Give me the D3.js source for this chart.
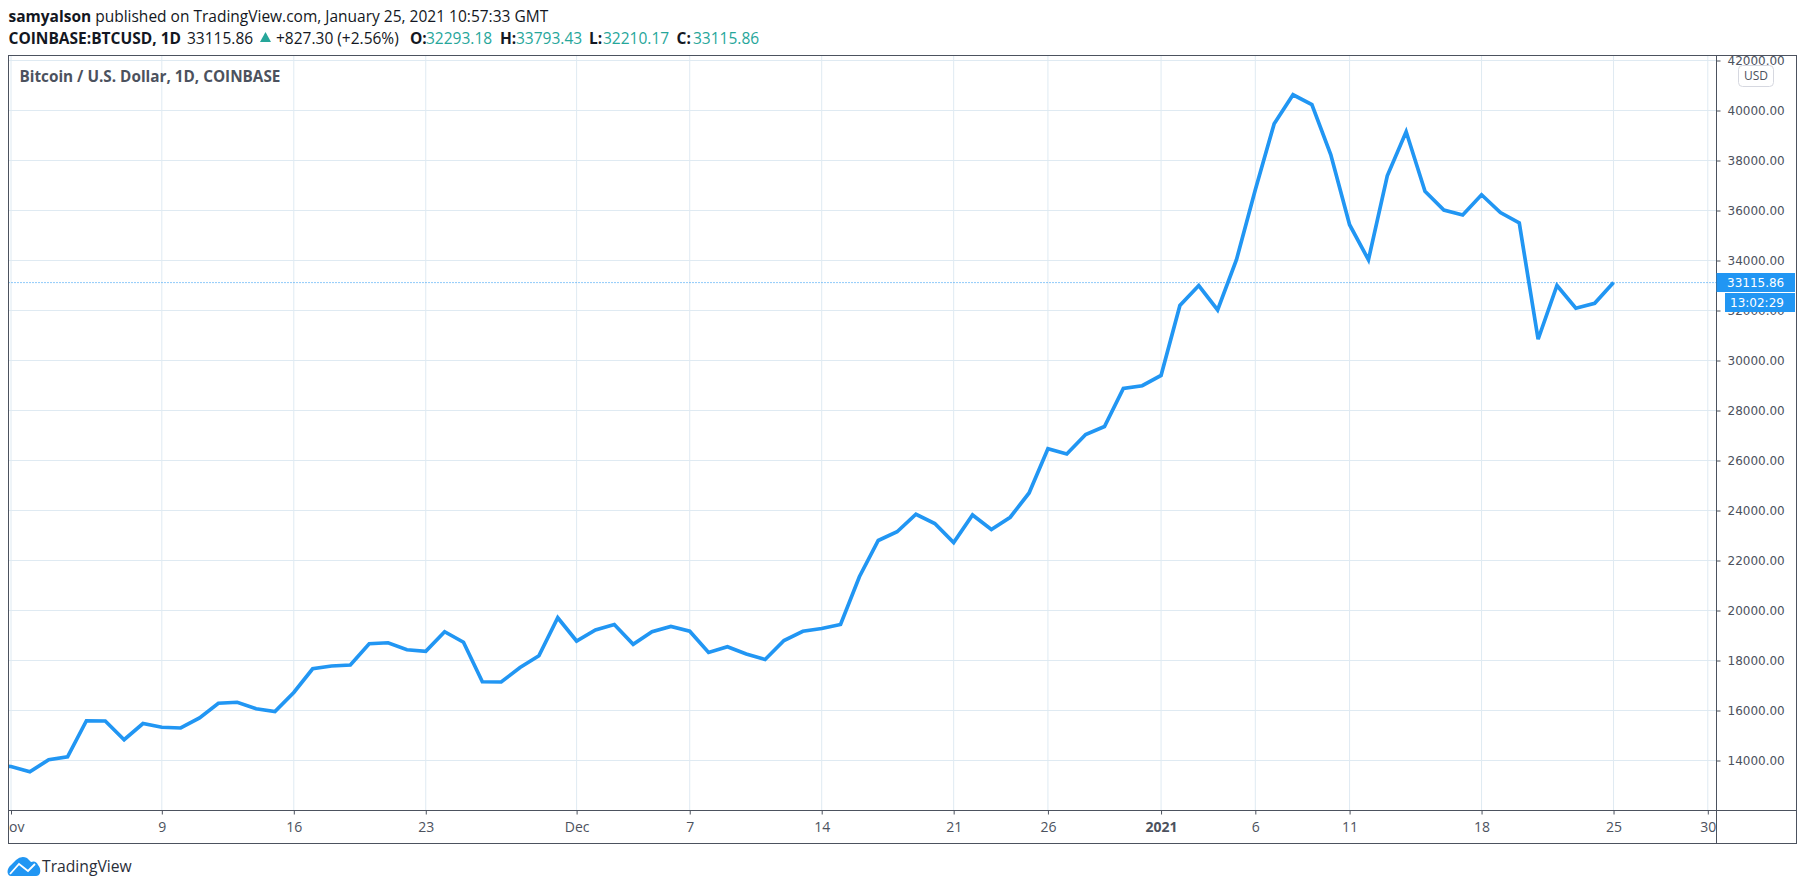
<!DOCTYPE html>
<html>
<head>
<meta charset="utf-8">
<script src="https://cdnjs.cloudflare.com/ajax/libs/d3/7.8.5/d3.min.js"></script>
<style>
  html, body { margin: 0; padding: 0; background: #fff; }
  svg { display: block; }
  text { font-family: "Open Sans", sans-serif; }
</style>
</head>
<body>
<svg id="chart" width="1805" height="890"></svg>
<script>
// daily closes. first one is Oct 31, off the left edge
const firstDay = "2020-10-31";
const closes = [
  13800, 13760, 13550, 14030, 14150, 15590, 15580, 14830, 15480, 15330, 15300,
  15700, 16290, 16330, 16070, 15960, 16720, 17670, 17780, 17820, 18670, 18710,
  18430, 18370, 19150, 18730, 17150, 17140, 17720, 18190, 19710,
  18780, 19220, 19440, 18650, 19150, 19360, 19170, 18320, 18550, 18260, 18040,
  18800, 19170, 19280, 19440, 21350, 22800, 23150, 23850, 23480, 22720, 23820,
  23240, 23730, 24700, 26470, 26260, 27040, 27360, 28880, 28990,
  29400, 32200, 33000, 32020, 34030, 36830, 39470, 40630, 40240, 38240, 35430,
  34030, 37390, 39150, 36770, 36020, 35820, 36630, 35920, 35500, 30850, 33000,
  32090, 32290, 33115.86
];

const priceTicks = [14000, 16000, 18000, 20000, 22000, 24000, 26000, 28000, 30000,
  32000, 34000, 36000, 38000, 40000, 42000];
const dateTicks = ["2020-11-01", "2020-11-09", "2020-11-16", "2020-11-23", "2020-12-01",
  "2020-12-07", "2020-12-14", "2020-12-21", "2020-12-26", "2021-01-01", "2021-01-06",
  "2021-01-11", "2021-01-18", "2021-01-25", "2021-01-30"];
const dateLabels = ["Nov", "9", "16", "23", "Dec", "7", "14", "21", "26", "2021", "6",
  "11", "18", "25", "30"];

const lastPrice = 33115.86;
const countdown = "13:02:29";
const currency = "USD";
const seriesTitle = "Bitcoin / U.S. Dollar, 1D, COINBASE";
const headerLine1 = "published on TradingView.com, January 25, 2021 10:57:33 GMT";
const headerAuthor = "samyalson";

const axisColor = "#4c525e";
const gridColor = "#dfeaf2";
const lineColor = "#2196f3";
const upColor = "#26a69a";

const parseDay = d3.utcParse("%Y-%m-%d");
const days = closes.map((d, i) => d3.utcDay.offset(parseDay(firstDay), i));

// frame of the pane
const paneLeft = 8.5, paneRight = 1716.5, paneTop = 56, paneBottom = 810.5, outerRight = 1796.5, outerBottom = 843.5;

const x = d3.scaleUtc()
  .domain([parseDay("2020-11-01"), parseDay("2021-01-30")])
  .range([11, 1707.8]);
const y = d3.scaleLinear()
  .domain([14000, 40000])
  .range([760.5, 110.5]);

const svg = d3.select("#chart");
const defs = svg.append("defs");
defs.append("clipPath").attr("id", "pane")
  .append("rect").attr("x", paneLeft).attr("y", paneTop).attr("width", paneRight - paneLeft).attr("height", paneBottom - paneTop);
defs.append("clipPath").attr("id", "priceAxisClip")
  .append("rect").attr("x", 0).attr("y", paneTop).attr("width", outerRight - paneRight).attr("height", paneBottom - paneTop);
defs.append("clipPath").attr("id", "timeAxisClip")
  .append("rect").attr("x", paneLeft).attr("y", 0).attr("width", paneRight - paneLeft).attr("height", outerBottom - paneBottom);

// header
const h1 = svg.append("text").attr("x", 8.5).attr("y", 22).attr("font-size", 15.5).attr("fill", "#131722");
h1.append("tspan").attr("font-weight", 700).text(headerAuthor);
h1.append("tspan").attr("dx", 4).text(headerLine1);

const headerBits = [
  { x: 8.5, text: "COINBASE:BTCUSD, 1D", bold: true, color: "#131722" },
  { x: 187, text: "33115.86", color: "#131722" },
  { x: 276, text: "+827.30 (+2.56%)", color: "#131722" },
  { x: 410, text: "O:", bold: true, color: "#131722" },
  { x: 426, text: "32293.18", color: upColor },
  { x: 500, text: "H:", bold: true, color: "#131722" },
  { x: 516, text: "33793.43", color: upColor },
  { x: 589, text: "L:", bold: true, color: "#131722" },
  { x: 603, text: "32210.17", color: upColor },
  { x: 676.5, text: "C:", bold: true, color: "#131722" },
  { x: 693, text: "33115.86", color: upColor }
];
svg.append("g").selectAll("text")
  .data(headerBits)
  .join("text")
  .attr("x", d => d.x)
  .attr("y", 44)
  .attr("font-size", 15.5)
  .attr("font-weight", d => d.bold ? 700 : 400)
  .attr("fill", d => d.color)
  .text(d => d.text);
svg.append("path").attr("d", "M265.5,32 L271,42 L260,42 Z").attr("fill", upColor);

// grid
const grid = svg.append("g").attr("clip-path", "url(#pane)");
grid.selectAll("line.h")
  .data(priceTicks)
  .join("line")
  .attr("class", "h")
  .attr("x1", paneLeft).attr("x2", paneRight)
  .attr("y1", d => y(d)).attr("y2", d => y(d))
  .attr("stroke", gridColor);
grid.selectAll("line.v")
  .data(dateTicks)
  .join("line")
  .attr("class", "v")
  .attr("x1", d => x(parseDay(d))).attr("x2", d => x(parseDay(d)))
  .attr("y1", paneTop).attr("y2", paneBottom)
  .attr("stroke", gridColor);

// last price dotted line
svg.append("line")
  .attr("x1", paneLeft).attr("x2", paneRight)
  .attr("y1", y(lastPrice)).attr("y2", y(lastPrice))
  .attr("stroke", lineColor)
  .attr("stroke-dasharray", "1 2");

// price line
const line = d3.line()
  .x((d, i) => x(days[i]))
  .y(d => y(d));
svg.append("path")
  .datum(closes)
  .attr("clip-path", "url(#pane)")
  .attr("fill", "none")
  .attr("stroke", lineColor)
  .attr("stroke-width", 3.7)
  .attr("stroke-linejoin", "miter")
  .attr("d", line);

svg.append("text")
  .attr("x", 19.5).attr("y", 81.5)
  .attr("font-size", 15.3).attr("font-weight", 700).attr("fill", axisColor)
  .text(seriesTitle);

// price axis
const yAxis = svg.append("g")
  .attr("transform", `translate(${paneRight},0)`)
  .attr("clip-path", "url(#priceAxisClip)")
  .call(d3.axisRight(y).tickValues(priceTicks).tickFormat(d3.format(".2f")).tickSize(4).tickPadding(7));
yAxis.select(".domain").remove();
yAxis.selectAll("line").attr("stroke", axisColor);
yAxis.selectAll("text")
  .style("font-family", "'DejaVu Sans', sans-serif")
  .attr("font-size", 12)
  .attr("fill", axisColor);

// time axis
const xAxis = svg.append("g")
  .attr("transform", `translate(0,${paneBottom})`)
  .attr("clip-path", "url(#timeAxisClip)")
  .call(d3.axisBottom(x)
    .tickValues(dateTicks.map(parseDay))
    .tickFormat((d, i) => dateLabels[i])
    .tickSize(4).tickPadding(8));
xAxis.select(".domain").remove();
xAxis.selectAll("line").attr("stroke", axisColor);
xAxis.selectAll("text")
  .style("font-family", "'Open Sans', sans-serif")
  .attr("font-size", 14)
  .attr("font-weight", (d, i) => dateLabels[i] === "2021" ? 700 : 400)
  .attr("fill", axisColor);

// frame
const frame = svg.append("g").attr("fill", "none").attr("stroke", axisColor);
frame.append("rect").attr("x", paneLeft).attr("y", 55.5).attr("width", outerRight - paneLeft).attr("height", outerBottom - 55.5);
frame.append("line").attr("x1", paneLeft).attr("x2", outerRight).attr("y1", paneBottom).attr("y2", paneBottom);
frame.append("line").attr("x1", paneRight).attr("x2", paneRight).attr("y1", 55.5).attr("y2", outerBottom);

// labels on the price axis
const priceBox = svg.append("g");
priceBox.append("rect").attr("x", paneRight).attr("y", 273).attr("width", 78.5).attr("height", 19).attr("fill", lineColor);
priceBox.append("text").attr("x", 1727).attr("y", y(lastPrice) + 4.5)
  .style("font-family", "'DejaVu Sans', sans-serif")
  .attr("font-size", 12).attr("fill", "#fff").text(d3.format(".2f")(lastPrice));
priceBox.append("rect").attr("x", 1725).attr("y", 293).attr("width", 70).attr("height", 19).attr("fill", lineColor);
priceBox.append("text").attr("x", 1730).attr("y", 307)
  .style("font-family", "'DejaVu Sans', sans-serif")
  .attr("font-size", 12).attr("fill", "#fff").text(countdown);

svg.append("rect").attr("x", 1738.5).attr("y", 65.5).attr("width", 35).attr("height", 21).attr("rx", 4)
  .attr("fill", "#fff").attr("stroke", "#d6d8e0");
svg.append("text").attr("x", 1756).attr("y", 80).attr("text-anchor", "middle")
  .attr("font-size", 12).attr("fill", axisColor).text(currency);

// TradingView logo
const logo = svg.append("g");
logo.append("path")
  .attr("d", "M7.5,872 Q7.5,868 11,865 L16,860 Q21,855.5 27,858 L31,862 Q36,860 38,865 Q41,868 40,873 Q39,876 36,876 L11,876 Q8,876 7.5,872 Z")
  .attr("fill", lineColor);
logo.append("path")
  .attr("d", "M10,874 L19,864 L28,871 L35,864")
  .attr("fill", "none").attr("stroke", "#fff").attr("stroke-width", 1.8);
logo.append("text").attr("x", 42).attr("y", 872).attr("font-size", 15.7).attr("fill", "#2a2e39").text("TradingView");
</script>
</body>
</html>
